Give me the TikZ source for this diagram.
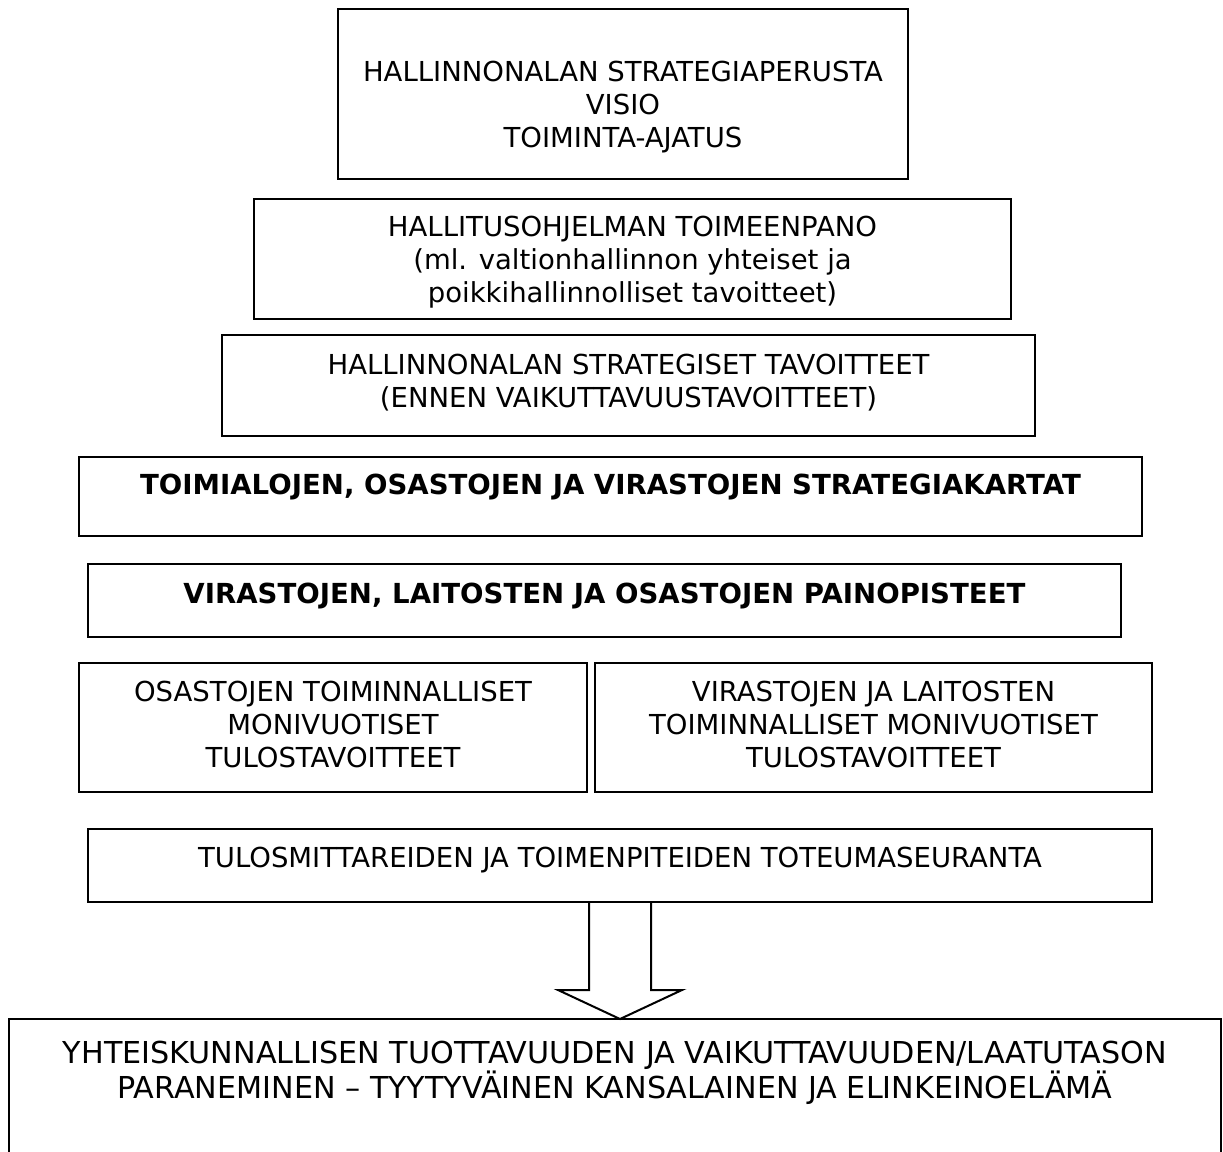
\documentclass[tikz,border=0pt]{standalone}
\usepackage{fontspec}
\setmainfont{DejaVu Sans}
\usetikzlibrary{calc}
\begin{document}
\begin{tikzpicture}[x=1pt,y=-1pt,
  frame/.style={draw=black, line width=2pt, inner sep=0pt, outer sep=0pt},
  outline/.style={draw=black, line width=2pt, line join=miter},
  % text nodes: the node's position is the cap centre of the last line
  lbl/.style={inner sep=0pt, align=center, text height=20pt, text depth=0pt,
    font=\fontsize{27.5}{33}\selectfont},
  lblbold/.style={lbl, font=\fontsize{27.6}{33}\selectfont\bfseries},
  lblbig/.style={inner sep=0pt, align=center, text height=22pt, text depth=0pt,
    font=\fontsize{30.2}{35}\selectfont}]
\clip (0,0) rectangle (1223,1151);

% boxes, top to bottom
\node[frame, minimum width=570, minimum height=170] (b1) at (623,94) {};
\node[frame, minimum width=757, minimum height=120] (b2) at (632.5,259) {};
\node[frame, minimum width=813, minimum height=101] (b3) at (628.5,385.5) {};
\node[frame, minimum width=1063, minimum height=79] (b4) at (610.5,496.5) {};
\node[frame, minimum width=1033, minimum height=73] (b5) at (604.5,600.5) {};
\node[frame, minimum width=508, minimum height=129] (b6a) at (333,727.5) {};
\node[frame, minimum width=557, minimum height=129] (b6b) at (873.5,727.5) {};
\node[frame, minimum width=1064, minimum height=73] (b7) at (620,865.5) {};
\node[frame, minimum width=1212, minimum height=150] (b8) at (615,1094) {};

% texts
\node[lbl] (t1) at (623,137) {HALLINNONALAN STRATEGIAPERUSTA\\VISIO\\TOIMINTA-AJATUS};
\node[lbl] (t2) at (632.5,292) {HALLITUSOHJELMAN TOIMEENPANO\\(ml. valtionhallinnon yhteiset ja\\poikkihallinnolliset tavoitteet)};
\node[lbl] (t3) at (628.5,397) {HALLINNONALAN STRATEGISET TAVOITTEET\\(ENNEN VAIKUTTAVUUSTAVOITTEET)};
\node[lblbold] (t4) at (610.5,484) {TOIMIALOJEN, OSASTOJEN JA VIRASTOJEN STRATEGIAKARTAT};
\node[lblbold] (t5) at (604.5,593) {VIRASTOJEN, LAITOSTEN JA OSASTOJEN PAINOPISTEET};
\node[lbl] (t6a) at (333,757) {OSASTOJEN TOIMINNALLISET\\MONIVUOTISET\\TULOSTAVOITTEET};
\node[lbl] (t6b) at (873.5,757) {VIRASTOJEN JA LAITOSTEN\\TOIMINNALLISET MONIVUOTISET\\TULOSTAVOITTEET};
\node[lbl] (t7) at (620,857) {TULOSMITTAREIDEN JA TOIMENPITEIDEN TOTEUMASEURANTA};
\node[lblbig] (t8) at (615,1087) {YHTEISKUNNALLISEN TUOTTAVUUDEN JA VAIKUTTAVUUDEN/LAATUTASON\\PARANEMINEN – TYYTYVÄINEN KANSALAINEN JA ELINKEINOELÄMÄ};

% hollow block arrow from the follow-up box down to the outcome box
\draw[outline] ($(b7.south)+(-31,0)$) -- ++(0,88) -- ++(-31,0)
  -- (b7.south |- b8.north)
  -- ($(b7.south)+(62,88)$) -- ++(-31,0) -- ($(b7.south)+(31,0)$);
\end{tikzpicture}
\end{document}
